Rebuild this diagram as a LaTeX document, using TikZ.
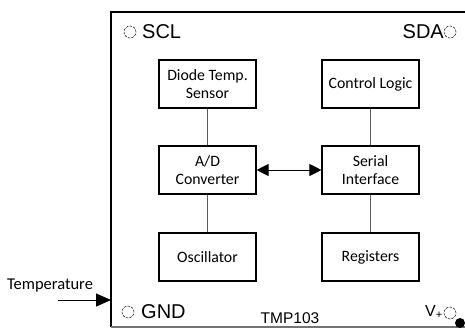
\documentclass[tikz,border=0pt]{standalone}
\usepackage{fontspec}
\setmainfont{Carlito}
\newfontfamily\arialfont{Liberation Sans}
\usetikzlibrary{arrows.meta,positioning}

\begin{document}
\begin{tikzpicture}[x=1pt, y=-1pt,
  block/.style={draw, line width=1.1pt, minimum width=97pt, minimum height=48pt,
    align=center, font=\fontsize{15.8}{17.5}\selectfont, inner sep=1pt},
  link/.style={draw=black!65, line width=0.9pt},
  pinlabel/.style={font=\arialfont\fontsize{20}{22}\selectfont, inner sep=0pt},
  pinmark/.style={draw=black, line width=0.5pt, dash pattern=on 2.5pt off 1.2pt}]
  \useasboundingbox (0,0) rectangle (465,330);
  % Chip outline
  \draw[line width=2.4pt] (475,12) -- (111,12) -- (111,327);
  \draw[line width=2.4pt, black!55] (111,327) -- (475,327);
  \coordinate (chipin) at (111,300);
  % Blocks
  \node[block] (sensor) at (207.5,84) {Diode Temp.\\Sensor};
  \node[block] (adc) at (207.5,170) {A/D\\Converter};
  \node[block] (osc) at (207.5,257) {Oscillator};
  \node[block] (ctrl) at (370.5,84) {Control Logic};
  \node[block] (serial) at (370.5,170) {Serial\\Interface};
  \node[block] (regs) at (370.5,257) {Registers};
  % Internal links
  \draw[link] (sensor) -- (adc);
  \draw[link] (adc) -- (osc);
  \draw[link] (ctrl) -- (serial);
  \draw[link] (serial) -- (regs);
  \draw[line width=1pt, {Triangle[length=12pt,width=12pt]}-{Triangle[length=12pt,width=12pt]}]
    (adc) -- (serial);
  % Pins
  \draw[pinmark] (130,32) circle (6pt);
  \node[pinlabel, anchor=west] (scl) at (142,32) {SCL};
  \draw[pinmark] (450,32) circle (6pt);
  \node[pinlabel, anchor=east] (sda) at (444,32) {SDA};
  \draw[pinmark] (128,312) circle (6pt);
  \node[pinlabel, anchor=west] (gnd) at (141,312) {GND};
  \draw[pinmark] (450,313) circle (6pt);
  \node[font=\arialfont\fontsize{16}{18}\selectfont, inner sep=0pt, anchor=east] (vplus)
    at (443,312) {V\textsubscript{+}};
  \fill (460,323) circle (5pt);
  \node[font=\arialfont\fontsize{15.5}{17}\selectfont, inner sep=0pt] (part) at (290,318) {TMP103};
  % Temperature input
  \node[font=\fontsize{16.5}{18}\selectfont, inner sep=0pt] (temp) at (50,286) {Temperature};
  \coordinate (tempsrc) at (58,300);
  \draw[line width=1pt, -{Triangle[length=15pt,width=13pt]}] (tempsrc) -- (chipin);
\end{tikzpicture}
\end{document}
